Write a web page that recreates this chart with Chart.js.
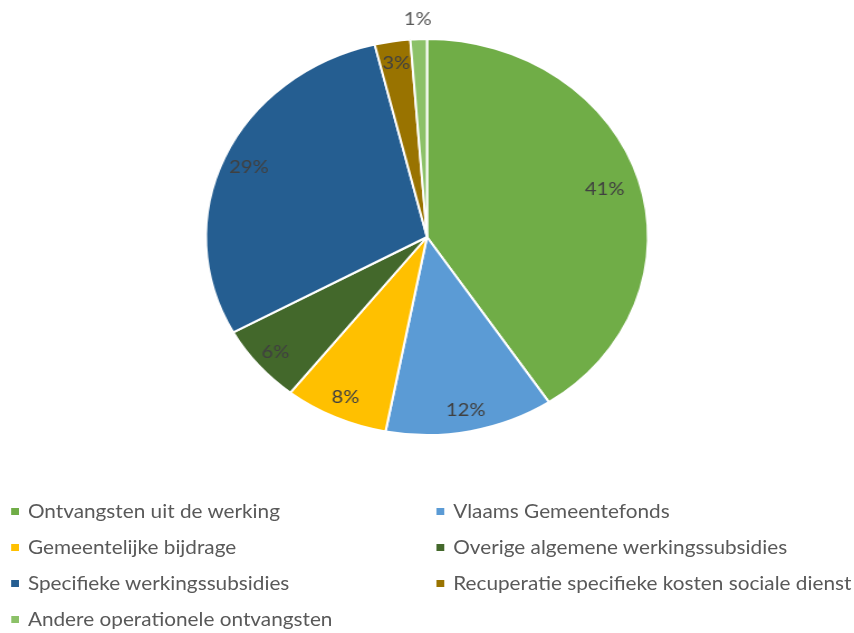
<!DOCTYPE html>
<html>
<head>
<meta charset="utf-8">
<script src="https://cdn.jsdelivr.net/npm/chart.js@4"></script>
<style>
  html, body { margin: 0; padding: 0; background: #fff; }
  /* reference is stretched horizontally, so draw narrower and scale */
  #wrap { position: relative; width: 765px; height: 633px; transform: scaleX(1.1163); transform-origin: 0 0; }
  #pie { position: absolute; left: 0; top: 0; }
  #legend { position: absolute; left: 10px; top: 500px; width: 755px; font-family: Lato, sans-serif; font-size: 18.6px; color: #595959; }
  .item { position: absolute; white-space: nowrap; }
  .item span { display: inline-block; width: 7px; height: 7px; margin-right: 8px; vertical-align: 3px; }
</style>
</head>
<body>
<div id="wrap">
  <canvas id="pie" width="765" height="633"></canvas>
  <div id="legend"></div>
</div>
<script>
const labels = [
  'Ontvangsten uit de werking',
  'Vlaams Gemeentefonds',
  'Gemeentelijke bijdrage',
  'Overige algemene werkingssubsidies',
  'Specifieke werkingssubsidies',
  'Recuperatie specifieke kosten sociale dienst',
  'Andere operationele ontvangsten'
];
const shares = [40.7, 12.3, 7.6, 6.4, 29.2, 2.6, 1.2];
const colors = ['#70AD47', '#5B9BD5', '#FFC000', '#43682B', '#255E91', '#997300', '#8CC168'];

// label distance from centre, as a fraction of the radius
const labelDist = [0.84, 0.89, 0.89, 0.9, 0.88, 0.89, 1.1];

const pctLabels = {
  id: 'pctLabels',
  afterDatasetsDraw(chart) {
    const ctx = chart.ctx;
    const total = shares.reduce((a, b) => a + b, 0);
    ctx.save();
    ctx.font = '18px Lato, sans-serif';
    ctx.textAlign = 'center';
    ctx.textBaseline = 'middle';
    chart.getDatasetMeta(0).data.forEach((arc, i) => {
      const p = arc.getProps(['x', 'y', 'startAngle', 'endAngle', 'outerRadius'], true);
      const mid = (p.startAngle + p.endAngle) / 2;
      const r = p.outerRadius * labelDist[i];
      ctx.fillStyle = i === 6 ? '#595959' : '#404040';
      ctx.fillText(Math.round(shares[i] / total * 100) + '%', p.x + Math.cos(mid) * r, p.y + Math.sin(mid) * r);
    });
    ctx.restore();
  }
};

new Chart(document.getElementById('pie'), {
  type: 'pie',
  data: {
    labels: labels,
    datasets: [{
      data: shares,
      backgroundColor: colors,
      borderColor: '#ffffff',
      borderWidth: 2
    }]
  },
  options: {
    responsive: false,
    animation: false,
    radius: 198,
    layout: { padding: { top: 39, bottom: 198 } },
    plugins: { legend: { display: false }, tooltip: { enabled: false } }
  },
  plugins: [pctLabels]
});

// two-column legend, filled row by row
const legend = document.getElementById('legend');
labels.forEach((name, i) => {
  const el = document.createElement('div');
  el.className = 'item';
  el.style.left = (i % 2 ? 381 : 0) + 'px';
  el.style.top = (Math.floor(i / 2) * 36) + 'px';
  el.innerHTML = '<span style="background:' + colors[i] + '"></span>' + name;
  legend.appendChild(el);
});
</script>
</body>
</html>
